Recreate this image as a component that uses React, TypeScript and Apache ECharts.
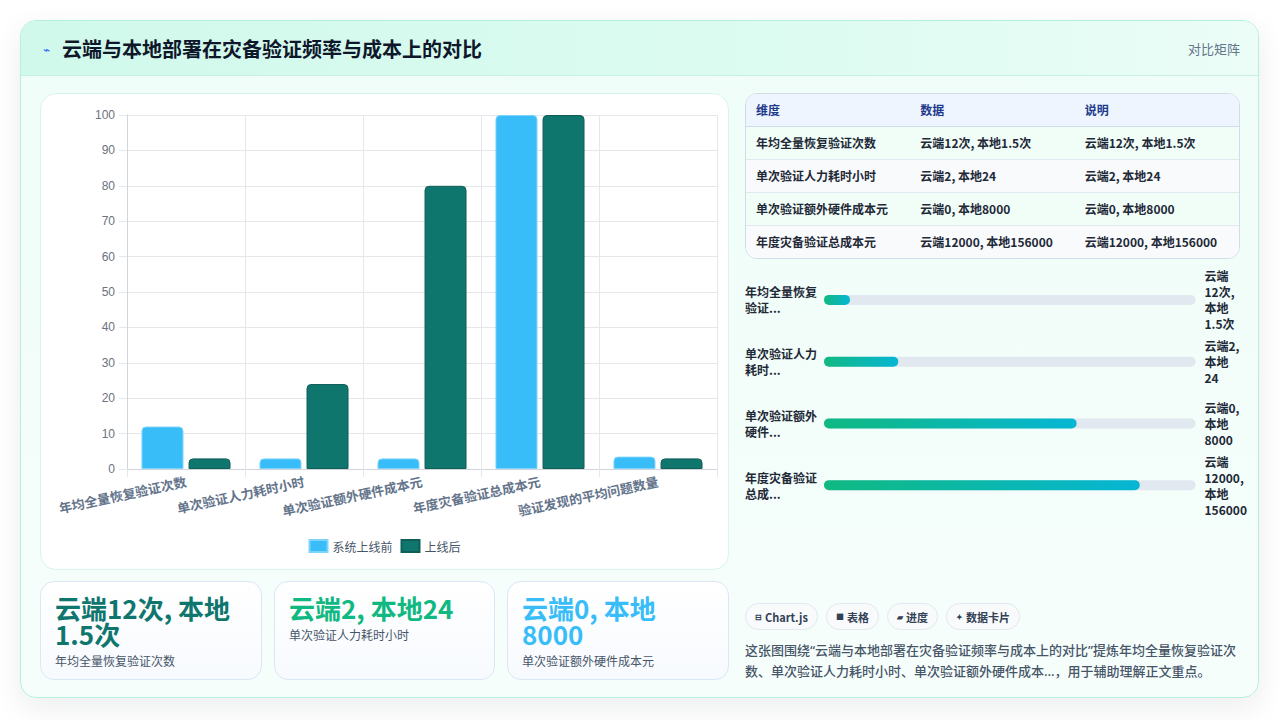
import React, { useEffect, useRef } from "react";
import * as echarts from "echarts";

const FONT = '"Noto Sans CJK SC", "Noto Sans", sans-serif';
const LATIN_FIRST = '"Noto Sans", "Noto Sans CJK SC", sans-serif';
const AXIS_FONT = '"Liberation Sans", "Noto Sans CJK SC", sans-serif';

// chart data
const categories = [
  "年均全量恢复验证次数",
  "单次验证人力耗时小时",
  "单次验证额外硬件成本元",
  "年度灾备验证总成本元",
  "验证发现的平均问题数量",
];
const beforeValues = [12, 3, 3, 100, 3.5];
const afterValues = [3, 24, 80, 100, 3];
const seriesNames = ["系统上线前", "上线后"];

// table / progress / cards
const tableHeaders = ["维度", "数据", "说明"];
const compareTexts = ["云端12次, 本地1.5次", "云端2, 本地24", "云端0, 本地8000", "云端12000, 本地156000"];
const progressValues = [7, 20, 68, 85];
const progressNotes = ["云端\n12次,\n本地\n1.5次", "云端2,\n本地\n24", "云端0,\n本地\n8000", "云端\n12000,\n本地\n156000"];
const kpiColors = ["#0f766e", "#10b981", "#38bdf8"];
const chipIcons = ["⊟", "■", "▰", "✦"];
const chipTexts = ["Chart.js", "表格", "进度", "数据卡片"];

const progressLabels = categories.slice(0, 4).map((c) => c.slice(0, 6) + "\n" + c.slice(6, 8) + "...");

function BarPanel() {
  const ref = useRef<HTMLDivElement | null>(null);

  useEffect(() => {
    if (!ref.current) return;
    const chart = echarts.init(ref.current, null, { renderer: "svg" });
    chart.setOption({
      animation: false,
      grid: { left: 86, right: 11, top: 21, bottom: 100 },
      legend: {
        top: 440,
        left: "center",
        itemWidth: 18,
        itemHeight: 12,
        itemGap: 8,
        icon: "rect",
        textStyle: { fontSize: 12, color: "#475569", fontFamily: FONT },
        data: seriesNames,
      },
      xAxis: {
        type: "category",
        data: categories,
        axisLine: { lineStyle: { color: "#d1d5db" } },
        axisTick: { show: true, length: 8, lineStyle: { color: "#e5e7eb" } },
        splitLine: { show: true, lineStyle: { color: "#e5e7eb" } },
        axisLabel: {
          interval: 0,
          rotate: 12,
          margin: 12,
          fontSize: 13,
          fontWeight: 600,
          color: "#64748b",
          fontFamily: FONT,
        },
      },
      yAxis: {
        type: "value",
        min: 0,
        max: 100,
        interval: 10,
        axisLine: { show: true, lineStyle: { color: "#d1d5db" } },
        axisTick: { show: true, length: 8, lineStyle: { color: "#e5e7eb" } },
        splitLine: { lineStyle: { color: "#e5e7eb" } },
        axisLabel: { margin: 12, fontSize: 12, color: "#6b7280", fontFamily: AXIS_FONT },
      },
      series: [
        {
          name: seriesNames[0],
          type: "bar",
          data: beforeValues,
          barWidth: 42,
          barGap: "12%",
          itemStyle: { color: "#38bdf8", borderColor: "#7dd3fc", borderWidth: 1, borderRadius: [4, 4, 0, 0] },
        },
        {
          name: seriesNames[1],
          type: "bar",
          data: afterValues,
          barWidth: 42,
          itemStyle: { color: "#0f766e", borderColor: "#115e59", borderWidth: 1, borderRadius: [4, 4, 0, 0] },
        },
      ],
    });
    return () => chart.dispose();
  }, []);

  return <div ref={ref} style={{ position: "absolute", left: 0, top: 0, width: 687, height: 475 }} />;
}

function ProgressPanel() {
  const ref = useRef<HTMLDivElement | null>(null);

  useEffect(() => {
    if (!ref.current) return;
    const chart = echarts.init(ref.current, null, { renderer: "svg" });
    const labelStyle = {
      fontSize: 12,
      fontWeight: 700,
      color: "#1f2937",
      lineHeight: 16,
      fontFamily: FONT,
      align: "left",
    };
    chart.setOption({
      animation: false,
      grid: { left: 84, right: 54, top: 4, bottom: 4 },
      xAxis: { type: "value", min: 0, max: 100, show: false },
      yAxis: [
        {
          type: "category",
          inverse: true,
          data: progressLabels,
          axisLine: { show: false },
          axisTick: { show: false },
          axisLabel: { ...labelStyle, margin: 79 },
        },
        {
          type: "category",
          inverse: true,
          position: "right",
          data: progressNotes,
          axisLine: { show: false },
          axisTick: { show: false },
          axisLabel: { ...labelStyle, margin: 9 },
        },
      ],
      series: [
        {
          type: "bar",
          yAxisIndex: 0,
          data: progressValues,
          barWidth: 10,
          showBackground: true,
          backgroundStyle: { color: "#e2e8f0", borderRadius: 5 },
          itemStyle: {
            borderRadius: 5,
            color: new echarts.graphic.LinearGradient(0, 0, 1, 0, [
              { offset: 0, color: "#10b981" },
              { offset: 1, color: "#06b6d4" },
            ]),
          },
        },
      ],
    });
    return () => chart.dispose();
  }, []);

  return <div ref={ref} style={{ position: "absolute", left: 719, top: 244, width: 510, height: 255 }} />;
}

export default function App() {
  const kpiLefts = [19, 253, 486];
  const kpiWidths = [222, 221, 222];

  return (
    <div
      style={{
        position: "absolute",
        left: 0,
        top: 0,
        width: 1280,
        height: 720,
        background: "#ffffff",
        fontFamily: FONT,
        overflow: "hidden",
      }}
    >
      <div
        style={{
          position: "absolute",
          left: 20,
          top: 20,
          width: 1239,
          height: 678,
          boxSizing: "border-box",
          border: "1px solid #b6efdc",
          borderRadius: 16,
          overflow: "hidden",
          background: "linear-gradient(180deg, #effdf8 0%, #f6fefb 100%)",
          boxShadow: "0 10px 30px rgba(15, 23, 42, 0.08)",
        }}
      >
        {/* header */}
        <div
          style={{
            position: "absolute",
            left: 0,
            top: 0,
            right: 0,
            height: 54,
            borderBottom: "1px solid #c6f1e3",
            background: "linear-gradient(90deg, #d0f9eb 0%, #dcfbf1 60%, #ebfdf6 100%)",
            display: "flex",
            alignItems: "center",
          }}
        >
          <span style={{ marginLeft: 22, color: "#2563eb", fontSize: 12, width: 19 }}>⌁</span>
          <span style={{ fontSize: 20, fontWeight: 700, color: "#0f172a" }}>
            云端与本地部署在灾备验证频率与成本上的对比
          </span>
          <span style={{ marginLeft: "auto", marginRight: 18, fontSize: 13, color: "#64748b" }}>对比矩阵</span>
        </div>

        {/* chart card */}
        <div
          style={{
            position: "absolute",
            left: 19,
            top: 72,
            width: 689,
            height: 477,
            boxSizing: "border-box",
            border: "1px solid #d9f5ea",
            borderRadius: 16,
            background: "#ffffff",
            overflow: "hidden",
          }}
        >
          <BarPanel />
        </div>

        {/* kpi cards */}
        {kpiColors.map((color, i) => (
          <div
            key={i}
            style={{
              position: "absolute",
              left: kpiLefts[i],
              top: 560,
              width: kpiWidths[i],
              height: 99,
              boxSizing: "border-box",
              border: "1px solid #dbe7f5",
              borderRadius: 14,
              background: "linear-gradient(180deg, #ffffff 0%, #f7fafe 100%)",
              padding: "13px 24px 0 14px",
            }}
          >
            <div style={{ fontSize: 26, lineHeight: "26px", fontWeight: 700, color }}>{compareTexts[i]}</div>
            <div style={{ marginTop: 5, fontSize: 12, lineHeight: "18px", color: "#475569" }}>{categories[i]}</div>
          </div>
        ))}

        {/* table */}
        <div
          style={{
            position: "absolute",
            left: 724,
            top: 72,
            width: 495,
            boxSizing: "border-box",
            border: "1px solid #cfdcea",
            borderRadius: 12,
            overflow: "hidden",
            background: "#ffffff",
          }}
        >
          <table style={{ width: "100%", borderCollapse: "collapse", tableLayout: "fixed", fontSize: 12 }}>
            <thead>
              <tr style={{ background: "#eef5ff", height: 32 }}>
                {tableHeaders.map((h) => (
                  <th
                    key={h}
                    style={{
                      textAlign: "left",
                      padding: "0 10px",
                      color: "#1e3a8a",
                      fontWeight: 700,
                      borderBottom: "1px solid #cfdcea",
                    }}
                  >
                    {h}
                  </th>
                ))}
              </tr>
            </thead>
            <tbody>
              {compareTexts.map((t, i) => (
                <tr key={i} style={{ height: 33, background: i % 2 === 0 ? "#f1fdf7" : "#f8fafc" }}>
                  {[categories[i], t, t].map((cell, j) => (
                    <td
                      key={j}
                      style={{
                        padding: "0 10px",
                        color: "#1f2937",
                        fontWeight: 600,
                        borderTop: i === 0 ? "none" : "1px solid #e2e8f0",
                        whiteSpace: "nowrap",
                      }}
                    >
                      {cell}
                    </td>
                  ))}
                </tr>
              ))}
            </tbody>
          </table>
        </div>

        <ProgressPanel />

        {/* chips */}
        <div style={{ position: "absolute", left: 724, top: 582, display: "flex", gap: 8 }}>
          {chipTexts.map((c, i) => (
            <div
              key={c}
              style={{
                height: 27,
                boxSizing: "border-box",
                padding: "0 9px",
                border: "1px solid #e2e8f0",
                borderRadius: 14,
                background: "#f8fafc",
                fontSize: 11,
                fontWeight: 700,
                color: "#334155",
                display: "flex",
                alignItems: "center",
              }}
            >
              <span style={{ fontSize: 8, marginRight: 3 }}>{chipIcons[i]}</span>
              {c}
            </div>
          ))}
        </div>

        {/* description */}
        <div
          style={{
            position: "absolute",
            left: 724,
            top: 619,
            width: 500,
            fontSize: 13,
            lineHeight: "21px",
            fontWeight: 500,
            color: "#475569",
            fontFamily: LATIN_FIRST,
          }}
        >
          这张图围绕“云端与本地部署在灾备验证频率与成本上的对比”提炼年均全量恢复验证次数、单次验证人力耗时小时、单次验证额外硬件成本...，用于辅助理解正文重点。
        </div>
      </div>
    </div>
  );
}
